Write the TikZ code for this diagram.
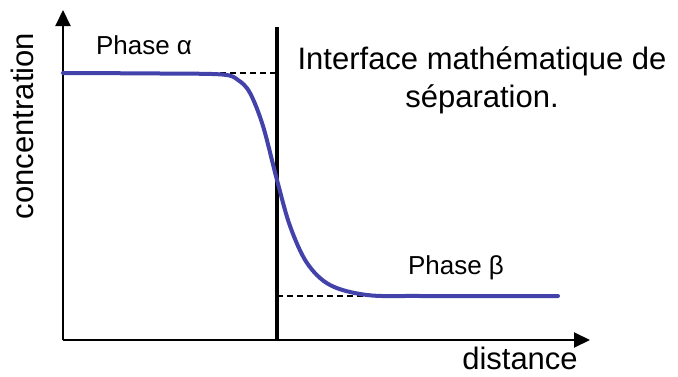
\documentclass[tikz,border=0pt]{standalone}
\usepackage{fontspec}
\setmainfont{Liberation Sans}
\usetikzlibrary{arrows.meta, positioning}
\definecolor{profil}{RGB}{66,66,170}
\tikzstyle{axe} = [line width=2pt, -{Triangle[length=16pt, width=15pt]}]
\tikzstyle{interface} = [line width=3.5pt]
\tikzstyle{niveau} = [line width=1.2pt, dash pattern=on 6pt off 4pt]
\tikzstyle{courbe} = [line width=4pt, color=profil, line cap=round]
\tikzstyle{grand} = [font=\fontsize{31}{38}\selectfont, inner sep=0pt]
\tikzstyle{petit} = [font=\fontsize{26}{30}\selectfont, inner sep=0pt]

\begin{document}
\begin{tikzpicture}[x=1pt, y=1pt]
    \useasboundingbox (0,0) rectangle (678,376);

    % Axes
    \coordinate (O) at (63,36);
    \coordinate (ytop) at (63,366);
    \coordinate (xend) at (590,36);
    \draw[axe] (O) -- (ytop);
    \draw[axe] (O) -- (xend);

    % Interface mathematique
    \coordinate (ibas) at (277,36);
    \coordinate (ihaut) at (277,349);
    \draw[interface] (ibas) -- (ihaut);

    % Niveaux des deux phases
    \coordinate (alpha0) at (190,303);
    \coordinate (alpha1) at (277,303);
    \coordinate (beta0) at (277,80);
    \coordinate (beta1) at (375,80);
    \draw[niveau] (alpha0) -- (alpha1);
    \draw[niveau] (beta0) -- (beta1);

    % Profil de concentration
    \draw[courbe] plot[smooth, tension=0.55] coordinates {
        (63,303) (160,302.5) (222,301.5) (238,296) (250,283) (263,250)
        (277,196) (290,150) (307,113) (330,91) (367,81) (420,80) (558,80)
    };

    % Textes
    \node[petit] (phasea) at (144,331) {Phase α};
    \node[petit] (phaseb) at (456,108) {Phase β};
    \node[grand, align=center] (titre) at (482,296)
        {Interface mathématique de\\séparation.};
    \node[grand] (xlabel) at (520,18) {distance};
    \node[grand, rotate=90] (ylabel) at (22,250) {concentration};
\end{tikzpicture}
\end{document}
